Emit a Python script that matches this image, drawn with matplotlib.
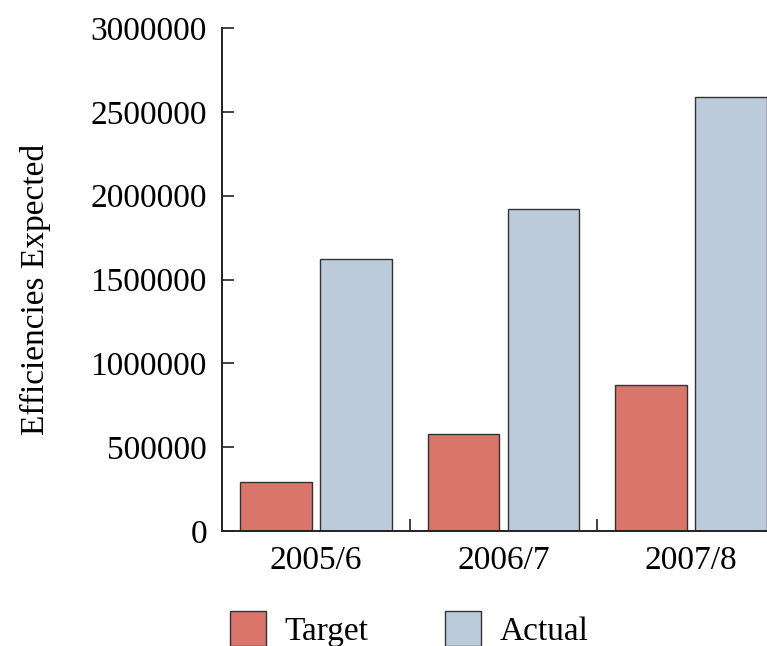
import matplotlib
matplotlib.use("Agg")
import matplotlib.pyplot as plt
import numpy as np
from matplotlib.patches import Patch

years = ["2005/6", "2006/7", "2007/8"]
target = [290000, 580000, 870000]
actual = [1620000, 1920000, 2590000]
y_ticks = [0, 500000, 1000000, 1500000, 2000000, 2500000, 3000000]
series_names = ["Target", "Actual"]

red = "#d9756a"
blue = "#bccbda"
edge = "#333333"

plt.rcParams["font.family"] = ["Liberation Serif", "DejaVu Serif"]
plt.rcParams["font.size"] = 24

fig = plt.figure(figsize=(7.67, 6.46), dpi=100)
ax = fig.add_axes([222 / 767, 115 / 646, 563 / 767, 503 / 646])

x = np.arange(len(years))
w = 0.383
off = 0.213
ax.bar(x - off, target, width=w, color=red, edgecolor=edge, linewidth=1.0)
ax.bar(x + off, actual, width=w, color=blue, edgecolor=edge, linewidth=1.0)

ax.set_xlim(-0.5, len(years) - 0.5)
ax.set_ylim(0, 3000000)
ax.set_yticks(y_ticks)
ax.set_yticklabels([str(v) for v in y_ticks])

ax.set_xticks(x)
ax.set_xticklabels(years)
ax.set_xticks(x[:-1] + 0.5, minor=True)
ax.tick_params(axis="x", which="major", length=0, pad=10.5)
ax.tick_params(axis="x", which="minor", direction="in", length=8.6, width=1.2, color="#222222")
ax.tick_params(axis="y", direction="in", length=8.6, width=1.2, color="#222222", pad=10.8)

for s in ["top", "right"]:
    ax.spines[s].set_visible(False)
for s in ["left", "bottom"]:
    ax.spines[s].set_linewidth(1.4)
    ax.spines[s].set_color("#222222")

fig.text(35 / 767, 1 - 289 / 646, "Efficiencies Expected", rotation=90,
         ha="center", va="center", fontsize=24)

handles = [Patch(facecolor=red, edgecolor=edge, linewidth=1.0),
           Patch(facecolor=blue, edgecolor=edge, linewidth=1.0)]
fig.legend(handles, series_names, loc="center left",
           bbox_to_anchor=(230 / 767, 1 - 629 / 646), ncol=2, frameon=False,
           handlelength=1.08, handleheight=1.25, handletextpad=0.55,
           columnspacing=2.3, borderpad=0, borderaxespad=0)

fig.savefig("out.png", dpi=100)
